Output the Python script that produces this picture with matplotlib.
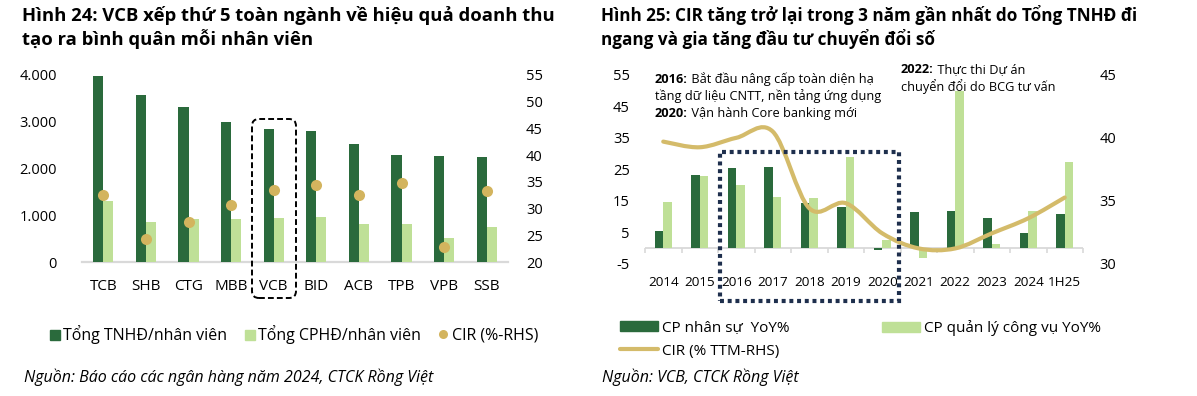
import numpy as np
import matplotlib
matplotlib.use('Agg')
import matplotlib.pyplot as plt
from matplotlib.patches import FancyBboxPatch, Rectangle, PathPatch, Patch
from matplotlib.path import Path
from matplotlib.lines import Line2D
from matplotlib.text import Annotation

# ---------------- data ----------------
cats1 = ['TCB', 'SHB', 'CTG', 'MBB', 'VCB', 'BID', 'ACB', 'TPB', 'VPB', 'SSB']
tnhd = [3985, 3565, 3325, 2990, 2840, 2810, 2530, 2290, 2270, 2240]
cphd = [1295, 860, 918, 918, 947, 968, 820, 805, 520, 755]
cir1 = [32.6, 24.3, 27.4, 30.6, 33.5, 34.4, 32.5, 34.8, 22.9, 33.2]
left_ticks = [0, 1000, 2000, 3000, 4000]
right_ticks1 = [20, 25, 30, 35, 40, 45, 50, 55]

years = ['2014', '2015', '2016', '2017', '2018', '2019', '2020', '2021',
         '2022', '2023', '2024', '1H25']
cp_ns = [5.3, 23.3, 25.3, 25.8, 14.2, 13.0, -0.7, 11.4, 11.7, 9.6, 4.7, 10.8]
cp_ql = [14.5, 22.9, 20.0, 16.3, 15.9, 29.0, 2.5, -3.2, 49.8, 1.2, 11.6, 27.2]
cir2 = [39.7, 39.25, 40.0, 40.5, 34.4, 34.8, 32.4, 31.2, 31.2, 32.4, 33.6, 35.25]
left_ticks2 = [-5, 5, 15, 25, 35, 45, 55]
right_ticks2 = [30, 35, 40, 45]

# ---------------- style ----------------
W, H = 1197, 396
plt.rcParams['font.family'] = ['Open Sans', 'DejaVu Sans']
plt.rcParams['axes.unicode_minus'] = False
fig = plt.figure(figsize=(W / 100, H / 100), dpi=100)

DARK = '#2a6a3c'
LIGHT = '#bfe097'
GOLD = '#d3b45e'
LINEC = '#d4bb6a'
NAVY = '#1e2f4d'
GRID = '#d9d9d9'


def fx(px):
    return px / W


def fy(py):
    return 1 - py / H


# ---------------- titles ----------------
fig.text(fx(22), fy(21), 'Hình 24: VCB xếp thứ 5 toàn ngành về hiệu quả doanh thu',
         fontsize=13.3, fontweight='bold', va='baseline', ha='left')
fig.text(fx(22), fy(45), 'tạo ra bình quân mỗi nhân viên',
         fontsize=13.3, fontweight='bold', va='baseline', ha='left')
fig.text(fx(601), fy(21), 'Hình 25: CIR tăng trở lại trong 3 năm gần nhất do Tổng TNHĐ đi',
         fontsize=12.3, fontweight='bold', va='baseline', ha='left')
fig.text(fx(601), fy(45), 'ngang và gia tăng đầu tư chuyển đổi số',
         fontsize=12.3, fontweight='bold', va='baseline', ha='left')

# ---------------- left chart ----------------
ax1 = fig.add_axes([fx(82), fy(262), (508 - 82) / W, (262 - 75) / H])
x1 = np.arange(len(cats1))
w1 = 0.235
ax1.bar(x1 - w1 / 2, tnhd, w1, color=DARK, zorder=2)
ax1.bar(x1 + w1 / 2, cphd, w1, color=LIGHT, zorder=2)
ax1.set_xlim(-0.5, len(cats1) - 0.5)
ax1.set_ylim(0, 4000)
ax1.set_yticks(left_ticks)
ax1.set_yticklabels([f"{v:,}".replace(',', '.') for v in left_ticks])
ax1.set_xticks(x1)
ax1.set_xticklabels(cats1)
ax1.tick_params(length=0, labelsize=10.5)
ax1.tick_params(axis='x', labelsize=11, pad=12)
ax1.tick_params(axis='y', pad=18)
for s in ax1.spines.values():
    s.set_visible(False)
ax1.axhline(0, color=GRID, lw=1.6, clip_on=False, zorder=1)

ax1b = ax1.twinx()
ax1b.scatter(x1, cir1, s=64, color=GOLD, zorder=3, linewidths=0)
ax1b.set_ylim(20, 55)
ax1b.set_yticks(right_ticks1)
ax1b.tick_params(length=0, labelsize=10.5, pad=13)
for s in ax1b.spines.values():
    s.set_visible(False)

# VCB highlight box
bx0, bx1, by0, by1 = 252, 296, 119, 298
box = FancyBboxPatch((fx(bx0), fy(by1)), (bx1 - bx0) / W, (by1 - by0) / H,
                     boxstyle='round,pad=0,rounding_size=%f' % (7 / W),
                     mutation_aspect=W / H, transform=fig.transFigure,
                     fill=False, edgecolor='black', lw=1.4, linestyle=(0, (3, 1.6)))
fig.patches.append(box)


# ---------------- right chart ----------------
ax2 = fig.add_axes([fx(645), fy(263.5), (1083 - 645) / W, (263.5 - 75) / H])
x2 = np.arange(len(years))
w2 = 0.235
ax2.bar(x2 - w2 / 2, cp_ns, w2, color=DARK, zorder=2)
ax2.bar(x2 + w2 / 2, cp_ql, w2, color=LIGHT, zorder=2)
ax2.set_xlim(-0.5, len(years) - 0.5)
ax2.set_ylim(-5, 55)
ax2.set_yticks(left_ticks2)
ax2.set_xticks(x2)
ax2.set_xticklabels(years)
ax2.tick_params(length=0, labelsize=10.5)
ax2.tick_params(axis='x', labelsize=9.7, pad=9)
ax2.tick_params(axis='y', pad=11)
for s in ax2.spines.values():
    s.set_visible(False)
ax2.axhline(0, color=GRID, lw=1.3, zorder=1)
ax2.vlines(np.arange(len(years) + 1) - 0.5, 0, -1.5, color=GRID, lw=1.2, zorder=1,
           clip_on=False)

ax2b = ax2.twinx()
ax2b.set_ylim(30, 45)
ax2b.set_yticks(right_ticks2)
ax2b.tick_params(length=0, labelsize=10.5, pad=12)
for s in ax2b.spines.values():
    s.set_visible(False)


def smooth_path(xs, ys):
    pts = np.column_stack([xs, ys]).astype(float)
    n = len(pts)
    verts = [pts[0]]
    codes = [Path.MOVETO]
    for i in range(n - 1):
        p0 = pts[i - 1] if i > 0 else pts[i]
        p1 = pts[i]
        p2 = pts[i + 1]
        p3 = pts[i + 2] if i + 2 < n else pts[i + 1]
        verts += [p1 + (p2 - p0) / 6, p2 - (p3 - p1) / 6, p2]
        codes += [Path.CURVE4] * 3
    return Path(verts, codes)


ax2b.add_patch(PathPatch(smooth_path(x2, cir2), fill=False, edgecolor=LINEC, lw=3,
                         capstyle='round', joinstyle='round', zorder=4))

# dotted highlight box
rect = Rectangle((fx(720), fy(301)), (899 - 720) / W, (301 - 152) / H,
                 transform=fig.transFigure, fill=False, edgecolor=NAVY, lw=3,
                 linestyle=(0, (0.95, 0.9)), capstyle='butt', zorder=5)
fig.patches.append(rect)

# annotations
AFS = 9.2


def rich(px, py, bold, rest):
    t = fig.text(fx(px), fy(py), bold, fontsize=AFS, fontweight='bold',
                 va='baseline', ha='left', zorder=6)
    if rest:
        a = Annotation(rest, xy=(1, 0), xycoords=t, va='bottom', ha='left',
                       fontsize=AFS, zorder=6)
        fig.add_artist(a)


rich(655, 82.7, '2016:', ' Bắt đầu nâng cấp toàn diện hạ')
fig.text(fx(655), fy(100), 'tầng dữ liệu CNTT, nền tảng ứng dụng', fontsize=AFS,
         va='baseline', ha='left')
rich(655, 117.3, '2020:', ' Vận hành Core banking mới')
rich(901, 72.7, '2022:', ' Thực thi Dự án')
fig.text(fx(901), fy(90.7), 'chuyển đổi do BCG tư vấn', fontsize=AFS,
         va='baseline', ha='left')


# ---------------- legends ----------------
def leg_item(handle, label, px, py, hl, hh, fs):
    lg = fig.legend([handle], [label], loc='center left',
                    bbox_to_anchor=(fx(px), fy(py)), frameon=False, borderpad=0,
                    borderaxespad=0, handlelength=hl, handleheight=hh,
                    handletextpad=0.22, fontsize=fs)
    return lg


leg_item(Patch(color=DARK), 'Tổng TNHĐ/nhân viên', 50, 335, 0.62, 0.62, 11.5)
leg_item(Patch(color=LIGHT), 'Tổng CPHĐ/nhân viên', 245, 335, 0.62, 0.62, 11.5)
leg_item(Line2D([], [], ls='none', marker='o', markersize=6.5, color=GOLD, mew=0),
         'CIR (%-RHS)', 438, 335, 0.65, 0.62, 11.5)

leg_item(Patch(color=DARK), 'CP nhân sự  YoY%', 620, 328, 2.5, 0.62, 11)
leg_item(Patch(color=LIGHT), 'CP quản lý công vụ YoY%', 882, 328, 2.5, 0.62, 11)
leg_item(Line2D([], [], color=LINEC, lw=3, solid_capstyle='round'),
         'CIR (% TTM-RHS)', 620, 351, 2.5, 0.62, 11)

# ---------------- sources ----------------
fig.text(fx(24), fy(377), 'Nguồn: Báo cáo các ngân hàng năm 2024, CTCK Rồng Việt',
         fontsize=11.5, style='italic', va='center', ha='left')
fig.text(fx(602), fy(377), 'Nguồn: VCB, CTCK Rồng Việt',
         fontsize=11.5, style='italic', va='center', ha='left')

fig.savefig('out.png', dpi=100)
